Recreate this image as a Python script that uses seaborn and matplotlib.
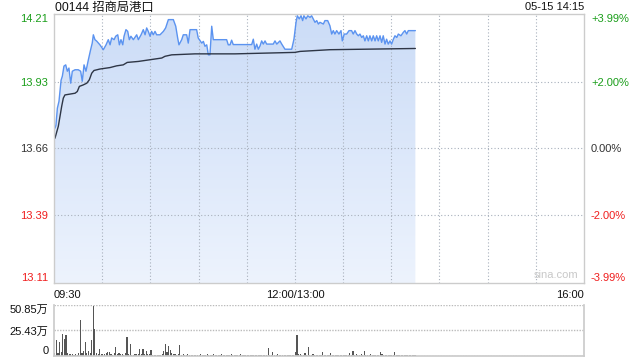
import numpy as np
import matplotlib
matplotlib.use("Agg")
import matplotlib.pyplot as plt
import seaborn as sns
from matplotlib.patches import PathPatch
from matplotlib.colors import LinearSegmentedColormap

# ---------------- data ----------------
title = "00144 招商局港口"
stamp = "05-15 14:15"
watermark = "sina.com"
prev_close = 13.66
price_ticks = [14.21, 13.93, 13.66, 13.39, 13.11]
pct_labels = ["+3.99%", "+2.00%", "0.00%", "-2.00%", "-3.99%"]
x_labels = ["09:30", "12:00/13:00", "16:00"]
vol_ticks = [0, 25.43, 50.85]
vol_labels = ["0", "25.43万", "50.85万"]

# minutes since open on the trading timeline (lunch removed)
price_min = [0.6, 1.2, 2.1, 3.1, 4.4, 5.2, 6.2, 7.3, 8.3, 9.3, 10.4, 11.4, 13.1, 15.1,
             16.6, 17.6, 18.7, 19.9, 21.4, 22.8, 23.8, 24.5, 25.5, 26.6, 28.6, 30.7,
             32.4, 33.8, 34.9, 35.9, 37.4, 38.4, 39.7, 40.7, 41.7, 42.8, 43.6, 44.8,
             45.9, 46.9, 47.9, 49.4, 51.5, 52.5, 54.2, 55.6, 56.7, 57.7, 58.7, 59.8,
             60.8, 61.8, 62.9, 63.9, 66.0, 68.1, 69.5, 71.2, 74.3, 75.8, 77.0, 77.8,
             79.5, 80.5, 82.6, 83.6, 84.7, 88.8, 89.8, 92.0, 93.0, 94.0, 95.1, 96.1,
             97.1, 98.2, 99.2, 107.5, 108.5, 109.6, 110.6, 111.6, 123.1, 124.1, 125.1,
             126.2, 127.2, 128.3, 129.3, 130.3, 131.4, 132.4, 136.5, 137.6, 138.7,
             140.7, 141.8, 143.8, 148.0, 149.4, 150.7, 151.5, 152.7, 153.8, 154.8,
             155.6, 156.9, 158.0, 159.4, 160.4, 161.4, 162.5, 163.6, 164.6, 165.6,
             167.7, 168.7, 170.4, 171.8, 172.9, 173.9, 174.9, 176.0, 177.4, 178.7,
             179.5, 180.7, 182.2, 183.7, 185.3, 186.3, 187.4, 188.5, 189.5, 190.5,
             191.6, 192.6, 193.6, 194.7, 195.7, 196.7, 197.8, 198.8, 199.9, 200.9,
             201.9, 203.0, 204.0, 205.0, 206.1, 207.1, 208.1, 209.2, 210.2, 211.3,
             212.3, 213.4, 214.4, 216.0, 217.5, 218.5, 219.6, 220.6, 225.0]
price = [13.743, 13.755, 13.825, 13.853, 13.939, 13.956, 13.997, 14.002, 13.976, 13.989,
         13.927, 13.976, 13.982, 13.982, 13.976, 13.935, 14.002, 13.976, 14.023, 14.064,
         14.091, 14.125, 14.105, 14.099, 14.084, 14.064, 14.084, 14.105, 14.084, 14.112,
         14.105, 14.119, 14.125, 14.084, 14.105, 14.084, 14.119, 14.146, 14.139, 14.105,
         14.119, 14.105, 14.125, 14.105, 14.125, 14.146, 14.125, 14.153, 14.139, 14.119,
         14.139, 14.125, 14.139, 14.125, 14.125, 14.139, 14.153, 14.187, 14.187, 14.160,
         14.112, 14.084, 14.105, 14.125, 14.125, 14.091, 14.146, 14.146, 14.112, 14.091,
         14.098, 14.078, 14.084, 14.043, 14.043, 14.160, 14.105, 14.105, 14.084, 14.084,
         14.103, 14.085, 14.085, 14.107, 14.066, 14.087, 14.066, 14.080, 14.100, 14.087,
         14.100, 14.087, 14.087, 14.100, 14.087, 14.100, 14.087, 14.066, 14.066, 14.107,
         14.176, 14.203, 14.190, 14.203, 14.183, 14.203, 14.190, 14.203, 14.196, 14.203,
         14.190, 14.176, 14.183, 14.169, 14.176, 14.169, 14.183, 14.183, 14.162, 14.128,
         14.142, 14.128, 14.142, 14.128, 14.142, 14.100, 14.128, 14.128, 14.142, 14.142,
         14.128, 14.142, 14.128, 14.121, 14.128, 14.114, 14.121, 14.100, 14.121, 14.100,
         14.121, 14.100, 14.121, 14.100, 14.121, 14.100, 14.121, 14.094, 14.121, 14.087,
         14.107, 14.087, 14.100, 14.087, 14.107, 14.121, 14.114, 14.128, 14.121, 14.135,
         14.142, 14.128, 14.142, 14.142]

avg_min = [0.6, 2.7, 4.8, 5.8, 6.8, 13.1, 14.5, 15.8, 18.2, 20.4, 22.0, 23.5, 24.9, 28.6,
           34.9, 39.0, 43.1, 45.6, 52.5, 67.1, 69.1, 73.3, 87.8, 112.7, 150.0, 153.2,
           171.8, 225.0]
avg = [13.702, 13.751, 13.833, 13.866, 13.879, 13.886, 13.893, 13.914, 13.920, 13.927,
       13.941, 13.968, 13.979, 13.985, 13.991, 13.998, 14.002, 14.012, 14.016, 14.030,
       14.037, 14.043, 14.047, 14.047, 14.053, 14.057, 14.064, 14.069]

# volume per minute (万), minutes 0..225
vol = [3, 15.7, 3, 14, 4, 22, 17, 21, 3, 2, 2, 1.5, 1, 2, 1,
       3, 36, 3, 5, 14, 3, 5, 3, 15.7, 50, 26.7, 3, 2, 7, 2,
       1.5, 2, 3, 4, 4, 2, 1, 3, 9, 2, 3, 1.5, 2, 1, 3,
       19, 2, 12, 1, 1, 2, 2, 1.5, 7, 2, 7, 2, 5, 2, 1.5,
       6, 1, 1, 1, 1, 1, 0.5, 2, 5, 11.7, 4, 10, 6, 3, 2,
       2, 1, 1.5, 11, 1, 2, 1, 1, 1.5, 1, 1, 1, 1, 0.5, 1,
       1, 1.5, 1, 1, 1, 2, 1, 1, 1, 1.5, 1, 1, 1, 1, 2,
       1, 1, 1, 1, 1, 2, 1, 1, 1, 1, 1, 2, 1, 1, 1,
       1, 1, 1, 1, 1, 1, 1, 1, 1, 1, 1, 1, 1, 8, 1,
       1, 4, 1, 1, 1.5, 1, 1, 1, 1, 1, 1, 1, 1, 1, 1,
       4, 21, 2, 2, 1, 1, 3, 1, 9, 1, 1, 2, 1, 1, 1,
       1, 1, 4, 1, 1, 1, 1, 3, 1, 1, 1, 1, 1, 1, 1,
       1, 1, 1, 1, 3, 1, 5, 1, 2, 1, 1, 2, 1, 5, 1,
       1, 1, 2, 1, 1, 1, 1, 1, 4, 2, 1, 1, 1, 1, 1,
       1, 1, 4, 1, 1, 1, 1, 1, 1, 1, 1, 1, 1, 1, 1, 1]
vol_min = list(range(len(vol)))

# ---------------- style ----------------
sns.set_theme(style="white")
plt.rcParams["font.family"] = ["Liberation Sans", "Noto Sans CJK SC", "DejaVu Sans"]

GREEN = "#1a9e1a"
RED = "#f01e1e"
DARK = "#333333"
BORDER = "#cccccc"
GRID = "#a8b0bc"

fig = plt.figure(figsize=(6.4, 3.6), dpi=100)
ax = fig.add_axes([54 / 640, 1 - 283 / 360, 530 / 640, 269 / 360])
axv = fig.add_axes([54 / 640, 1 - 356 / 360, 530 / 640, 51 / 360])

ymin, ymax = price_ticks[-1], price_ticks[0]
ax.set_xlim(0, 330)
ax.set_ylim(ymin, ymax)

# gradient area under the price line (lowest layer)
poly = ax.fill_between(price_min, price, ymin, color="none", linewidth=0, zorder=0.3)
patch = PathPatch(poly.get_paths()[0], transform=ax.transData, facecolor="none",
                  edgecolor="none", zorder=0.3)
ax.add_patch(patch)
cmap = LinearSegmentedColormap.from_list("g", ["#edf3fd", "#cbdcf7"])
im = ax.imshow(np.linspace(0, 1, 256).reshape(-1, 1), extent=[0, 330, ymin, ymax],
               aspect="auto", cmap=cmap, origin="lower", zorder=0.4)
im.set_clip_path(patch)

# dotted grid drawn explicitly above the fill
xgrid = np.arange(30, 330, 30)
for xv in xgrid:
    ax.axvline(xv, color=GRID, linestyle=(0, (1, 2)), linewidth=0.8, zorder=2.5)
for yv in price_ticks[1:-1]:
    ax.axhline(yv, color=GRID, linestyle=(0, (1, 2)), linewidth=0.8, zorder=2.5)

sns.lineplot(x=price_min, y=price, ax=ax, color="#5b93f0", linewidth=1.0, zorder=3)
sns.lineplot(x=avg_min, y=avg, ax=ax, color="#2e3646", linewidth=1.0, zorder=3)
ax.set_xlim(0, 330)
ax.set_ylim(ymin, ymax)
ax.grid(False)

ax.set_xticks(np.arange(0, 331, 30))
ax.set_yticks(price_ticks)
for s in ax.spines.values():
    s.set_color(BORDER)
    s.set_linewidth(1)
    s.set_zorder(4)
ax.tick_params(length=0)

# left labels
lbls = ax.set_yticklabels([f"{v:.2f}" for v in price_ticks], fontsize=8)
lcolors = [GREEN, GREEN, DARK, RED, RED]
for t, c in zip(lbls, lcolors):
    t.set_color(c)
lbls[0].set_va("top")
lbls[-1].set_va("bottom")
ax.tick_params(axis="y", pad=4)

# x labels
xt = [""] * 12
xt[0], xt[5], xt[11] = x_labels
xl = ax.set_xticklabels(xt, fontsize=8, color="#111111")
xl[0].set_ha("left")
xl[11].set_ha("right")
ax.tick_params(axis="x", pad=5)

# right labels
ax2 = ax.twinx()
ax2.set_ylim(ymin, ymax)
ax2.set_yticks(price_ticks)
rl = ax2.set_yticklabels(pct_labels, fontsize=8)
for t, c in zip(rl, lcolors):
    t.set_color(c)
rl[0].set_va("top")
rl[-1].set_va("bottom")
ax2.tick_params(length=0, pad=5)
for s in ax2.spines.values():
    s.set_visible(False)
ax2.grid(False)

fig.text(55 / 640, 1 - 8 / 360, title, fontsize=8.8, color="#111111", va="center", ha="left")
fig.text(584 / 640, 1 - 7 / 360, stamp, fontsize=8, color="#111111", va="center", ha="right")
ax.text(0.99, 0.012, watermark, transform=ax.transAxes, fontsize=8, color="#c8c8c8",
        ha="right", va="bottom")

# volume
sns.barplot(x=vol_min, y=vol, ax=axv, native_scale=True, color="#555555",
            saturation=1, width=0.72, errorbar=None, linewidth=0, antialiased=False)
axv.set_xlim(-0.5, 330)
axv.set_ylim(0, vol_ticks[-1])
axv.set_xticks([])
axv.set_yticks(vol_ticks)
vl = axv.set_yticklabels(vol_labels, fontsize=8, color="#111111")
vl[0].set_va("bottom")
vl[-1].set_va("top")
axv.tick_params(length=0, pad=4)
axv.yaxis.grid(True, color="#bbbbbb", linestyle=(0, (1, 1)), linewidth=1)
axv.set_axisbelow(True)
for k, s in axv.spines.items():
    s.set_color(BORDER)
axv.spines["top"].set_visible(False)
axv.set_xlabel("")
axv.set_ylabel("")

fig.savefig("out.png", dpi=100)
